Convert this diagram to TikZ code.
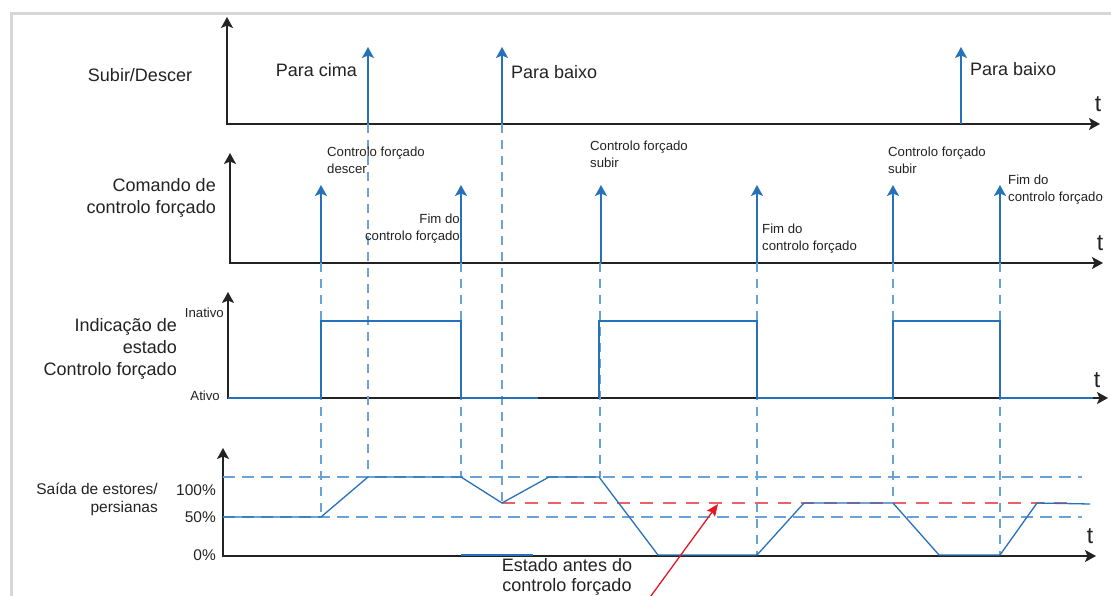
\documentclass[tikz,border=0pt]{standalone}
\usepackage{fontspec}
\setmainfont{Liberation Sans}
\usetikzlibrary{arrows.meta,positioning,calc}
\definecolor{sigblue}{RGB}{38,114,186}
\definecolor{dashblue}{RGB}{105,162,216}
\definecolor{axisgray}{RGB}{35,35,35}
\definecolor{framegray}{RGB}{214,214,214}
\definecolor{markred}{RGB}{228,24,36}
\definecolor{dashred}{RGB}{236,96,104}

\begin{document}
\begin{tikzpicture}[x=1pt,y=-1pt,
  axis/.style={axisgray,line width=1.5pt,{Stealth[length=11pt,width=12pt,inset=2.5pt]}-{Stealth[length=11pt,width=12pt,inset=2.5pt]}},
  pulse/.style={sigblue,line width=1.6pt,-{Stealth[length=11pt,width=12pt,inset=2.5pt]}},
  sig/.style={sigblue,line width=1.3pt,line join=miter},
  guide/.style={dashblue,line width=1.1pt,dash pattern=on 9pt off 7pt},
  lvl/.style={dashblue,line width=1.1pt,dash pattern=on 12pt off 7pt},
  big/.style={font=\fontsize{18}{22}\selectfont,text=axisgray,inner sep=0pt},
  mid/.style={font=\fontsize{15.5}{18}\selectfont,text=axisgray,inner sep=0pt},
  note/.style={font=\fontsize{13.2}{16.8}\selectfont,text=axisgray,inner sep=0pt},
  tlab/.style={font=\fontsize{23}{23}\selectfont,text=axisgray,inner sep=0pt}]
  \useasboundingbox (0,0) rectangle (1111,596);
  \clip (0,0) rectangle (1111,596);
  \fill[white] (0,0) rectangle (1111,596);
  \draw[framegray,line width=3pt] (1111,14) -- (11,14) -- (11,596);

  % axes
  \coordinate (o1) at (227,124); \coordinate (y1) at (227,17);  \coordinate (x1) at (1100,124);
  \coordinate (o2) at (230,263); \coordinate (y2) at (230,153); \coordinate (x2) at (1103,263);
  \coordinate (o3) at (228,398); \coordinate (y3) at (228,292); \coordinate (x3) at (1108,398);
  \coordinate (o4) at (223,556); \coordinate (y4) at (223,448); \coordinate (x4) at (1096,556);
  \draw[axis] (y1) -- (o1) -- (x1);
  \draw[axis] (y2) -- (o2) -- (x2);
  \draw[axis] (y3) -- (o3) -- (x3);
  \draw[axis] (y4) -- (o4) -- (x4);
  \node[tlab] (t1) at (1098,104) {t};
  \node[tlab] (t2) at (1100,243) {t};
  \node[tlab] (t3) at (1097,380) {t};
  \node[tlab] (t4) at (1090,536) {t};

  % row labels
  \node[big] (lsub) at (140,75) {Subir/Descer};
  \node[big,align=right,anchor=east] (lcmd) at (216,198) {Comando de\\controlo forçado};
  \node[big,align=right,anchor=east] (lind) at (177,349) {Indicação de\\estado\\Controlo forçado};
  \node[mid,align=right,anchor=east] (lout) at (158,499) {Saída de estores/\\persianas};
  \node[note,anchor=east] (lin) at (224,313) {Inativo};
  \node[note,anchor=east] (lat) at (220,396) {Ativo};
  \node[mid,anchor=east] (p100) at (216,490) {100\%};
  \node[mid,anchor=east] (p50) at (216,517) {50\%};
  \node[mid,anchor=east] (p0) at (216,555) {0\%};

  % guide lines down to the output
  \draw[guide] (368,124) -- (368,477);
  \draw[guide] (502,124) -- (502,503);
  \draw[guide] (321,263) -- (321,517);
  \draw[guide] (461,263) -- (461,477);
  \draw[guide] (600,263) -- (600,477);
  \draw[guide] (757,263) -- (757,555);
  \draw[guide] (893,263) -- (893,503);
  \draw[guide] (1000,263) -- (1000,555);
  \draw[lvl] (223,477) -- (1082,477);
  \draw[lvl] (223,517) -- (1082,517);
  \draw[dashred,line width=1.1pt,dash pattern=on 13pt off 10pt] (502,503) -- (1077,503);

  % up / down commands
  \coordinate (u1) at (368,124); \coordinate (u1t) at (368,47);
  \coordinate (d1) at (502,124); \coordinate (d1t) at (502,47);
  \coordinate (d2) at (961,124); \coordinate (d2t) at (961,47);
  \draw[pulse] (u1) -- (u1t);
  \draw[pulse] (d1) -- (d1t);
  \draw[pulse] (d2) -- (d2t);
  \node[big,anchor=east] (lu1) at (357,70) {Para cima};
  \node[big,anchor=west] (ld1) at (511,72) {Para baixo};
  \node[big,anchor=west] (ld2) at (970,69) {Para baixo};

  % forced control commands
  \coordinate (c1) at (321,263);  \coordinate (c1t) at (321,185);
  \coordinate (c2) at (461,263);  \coordinate (c2t) at (461,185);
  \coordinate (c3) at (601,263);  \coordinate (c3t) at (601,185);
  \coordinate (c4) at (757,263);  \coordinate (c4t) at (757,185);
  \coordinate (c5) at (893,263);  \coordinate (c5t) at (893,185);
  \coordinate (c6) at (1000,263); \coordinate (c6t) at (1000,185);
  \draw[pulse] (c1) -- (c1t);
  \draw[pulse] (c2) -- (c2t);
  \draw[pulse] (c3) -- (c3t);
  \draw[pulse] (c4) -- (c4t);
  \draw[pulse] (c5) -- (c5t);
  \draw[pulse] (c6) -- (c6t);
  \node[note,align=left,anchor=north west] (n1) at (327,147) {Controlo forçado\\descer};
  \node[note,align=right,anchor=north east] (n2) at (460,214) {Fim do\\controlo forçado};
  \node[note,align=left,anchor=north west] (n3) at (590,141) {Controlo forçado\\subir};
  \node[note,align=left,anchor=north west] (n4) at (762,224) {Fim do\\controlo forçado};
  \node[note,align=left,anchor=north west] (n5) at (888,147) {Controlo forçado\\subir};
  \node[note,align=left,anchor=north west] (n6) at (1008,175) {Fim do\\controlo forçado};

  % status indication
  \draw[sig] (o3) -- (321,398) -- (321,321) -- (461,321) -- (461,398) -- (538,398);
  \draw[sig] (599,398) -- (599,321) -- (757,321) -- (757,398) -- (893,398)
    -- (893,321) -- (1000,321) -- (1000,398) -- (1093,398);

  % blind output
  \draw[sig] (223,517) -- (321,517) -- (368,477) -- (461,477) -- (502,503)
    -- (549,477) -- (599,477) -- (658,555) -- (757,555) -- (804,503)
    -- (893,503) -- (939,555) -- (1000,555) -- (1037,503) -- (1090,504);
  \draw[sig] (461,555) -- (533,555);

  % state before forced control
  \node[font=\fontsize{18}{20}\selectfont,text=axisgray,inner sep=0pt,align=center] (lbef) at (567,577) {Estado antes do\\controlo forçado};
  \coordinate (rtail) at (648,600);
  \coordinate (rtip) at (718,504);
  \draw[markred,line width=1.3pt,-{Stealth[length=12pt,width=10pt,inset=2pt]}] (rtail) -- (rtip);
\end{tikzpicture}
\end{document}
